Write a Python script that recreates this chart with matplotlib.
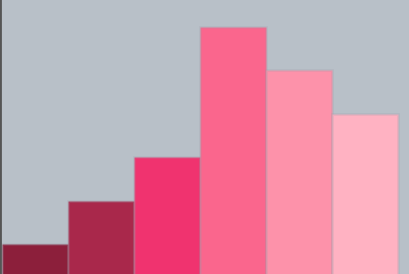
import numpy as np
import matplotlib
matplotlib.use("Agg")
import matplotlib.pyplot as plt

# bar values (axis bottom is cut off)
categories = ["A", "B", "C", "D", "E", "F"]
values = [1, 2, 3, 6, 5, 4]
colors = ["#8c1f3b", "#a9284b", "#f0336f", "#fa668d", "#fd92aa", "#ffb2c2"]

fig = plt.figure(figsize=(4.1, 2.74), dpi=100)
ax = fig.add_axes([0, 0, 1, 1])
ax.set_facecolor("#b8c0c8")
fig.patch.set_facecolor("#b8c0c8")

x = np.arange(len(categories))
ax.bar(x, values, width=1.0, color=colors, edgecolor=(0.6, 0.6, 0.65, 0.2), linewidth=2)

ax.set_xlim(-0.53, 5.68)
ax.set_ylim(0.31, 6.62)
ax.set_xticks([])
ax.set_yticks([])
for s in ["top", "right", "bottom"]:
    ax.spines[s].set_visible(False)
ax.spines["left"].set_color("#555555")
ax.spines["left"].set_linewidth(2)

fig.savefig("out.png", dpi=100, facecolor=fig.get_facecolor())
